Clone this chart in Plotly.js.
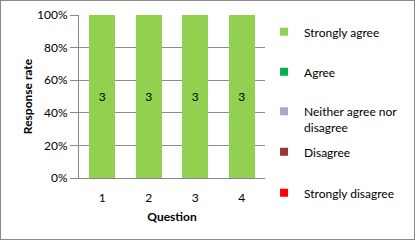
<!DOCTYPE html>
<html>
<head>
<meta charset="utf-8">
<script src="https://cdn.plot.ly/plotly-3.0.1.min.js"></script>
<style>
html,body{margin:0;padding:0;background:#fff;}
#wrap{position:relative;width:415px;height:240px;}
#chart{width:415px;height:240px;}
#frame{position:absolute;left:0;top:0;width:413px;height:238px;border:1px solid #8a8a8a;pointer-events:none;}
</style>
</head>
<body>
<div id="wrap"><div id="chart"></div><div id="frame"></div></div>
<script>
var questions = ["1", "2", "3", "4"];
var seriesNames = ["Strongly agree", "Agree", "Neither agree nor<br>disagree", "Disagree", "Strongly disagree"];
var stronglyAgree = [3, 3, 3, 3];
var agree = [0, 0, 0, 0];
var neither = [0, 0, 0, 0];
var disagree = [0, 0, 0, 0];
var stronglyDisagree = [0, 0, 0, 0];
var seriesColors = ["#92D050", "#00B050", "#B3A2C7", "#953735", "#FF0000"];
var yTickVals = [0, 20, 40, 60, 80, 100];
var yTickText = ["0%", "20%", "40%", "60%", "80%", "100%"];

var FONT = "Lato, 'Open Sans', sans-serif";
var seriesValues = [stronglyAgree, agree, neither, disagree, stronglyDisagree];
var legendIds = ["legend", "legend2", "legend3", "legend4", "legend5"];
var traces = [];
seriesValues.forEach(function (vals, i) {
  traces.push({
    type: "bar",
    x: questions,
    y: vals,
    name: seriesNames[i],
    marker: {color: seriesColors[i]},
    text: vals.map(function (v) { return v > 0 ? String(v) : ""; }),
    textposition: "inside",
    insidetextanchor: "middle",
    textfont: {family: FONT, size: 12, color: "#000"},
    hoverinfo: "skip",
    showlegend: false
  });
});
seriesNames.forEach(function (n, i) {
  traces.push({
    type: "scatter",
    mode: "markers",
    x: [null], y: [null],
    name: n,
    legend: legendIds[i],
    marker: {symbol: "square", size: 8, color: seriesColors[i]},
    showlegend: true
  });
});

// legend item centres (pixels from top) -> paper coords
var plotTop = 15, plotH = 163, plotL = 79, plotW = 196;
function py(p) { return (plotTop + plotH - p) / plotH; }
var legendX = (274 - plotL) / plotW;
var legendCentres = [32, 72, 119.5, 152, 193];

var layout = {
  width: 415, height: 240,
  margin: {l: plotL, r: 415 - plotL - plotW, t: plotTop, b: 240 - plotTop - plotH},
  paper_bgcolor: "#fff",
  plot_bgcolor: "#fff",
  barmode: "stack",
  barnorm: "percent",
  bargap: 0.45,
  font: {family: FONT, size: 12, color: "#000"},
  xaxis: {
    type: "category",
    showline: true, linecolor: "#888", linewidth: 1,
    ticks: "outside", ticklen: 9, tickcolor: "rgba(0,0,0,0)",
    showgrid: false,
    tickfont: {size: 12, color: "#000"},
    title: {text: "Question", font: {size: 12, color: "#000", weight: "bold"}, standoff: 8}
  },
  yaxis: {
    range: [0, 100],
    tickvals: yTickVals,
    ticktext: yTickText,
    showgrid: true, gridcolor: "#8c8c8c", gridwidth: 1,
    showline: true, linecolor: "#888", linewidth: 1,
    ticks: "outside", ticklen: 8, tickcolor: "#8c8c8c",
    tickfont: {size: 12, color: "#000"},
    zeroline: false,
    title: {text: "Response rate", font: {size: 12, color: "#000", weight: "bold"}, standoff: 1}
  }
};
legendIds.forEach(function (id, i) {
  layout[id] = {
    x: legendX, xanchor: "left",
    y: py(legendCentres[i]), yanchor: "middle",
    valign: "top",
    font: {family: FONT, size: 12, color: "#000"},
    bgcolor: "rgba(0,0,0,0)",
    borderwidth: 0
  };
});

Plotly.newPlot("chart", traces, layout, {staticPlot: true, displayModeBar: false});
</script>
</body>
</html>
